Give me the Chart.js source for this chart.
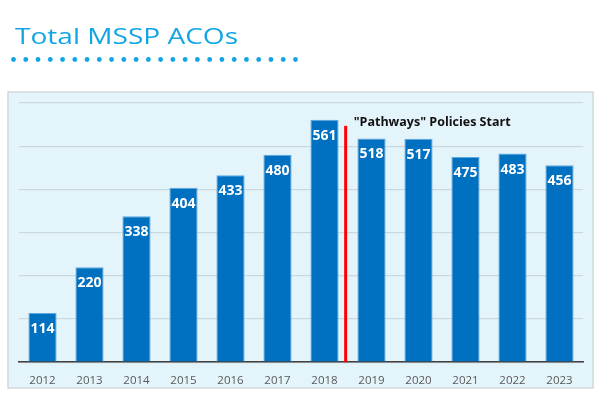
<!DOCTYPE html>
<html>
<head>
<meta charset="utf-8">
<script src="https://cdn.jsdelivr.net/npm/chart.js@4"></script>
<style>
  html, body { margin: 0; padding: 0; background: #fff; }
  #wrap { width: 600px; height: 397px; position: relative; }
</style>
</head>
<body>
<div id="wrap"><canvas id="acos" width="600" height="397"></canvas></div>
<script>
// Total MSSP ACOs per year
const years = ["2012", "2013", "2014", "2015", "2016", "2017", "2018", "2019", "2020", "2021", "2022", "2023"];
const acoCounts = [114, 220, 338, 404, 433, 480, 561, 518, 517, 475, 483, 456];
const yTicks = [0, 100, 200, 300, 400, 500, 600];
const policyNote = "\"Pathways\" Policies Start";

// panel, title and dotted rule behind the chart
const backdrop = {
  id: "backdrop",
  beforeDraw(chart) {
    const ctx = chart.ctx;
    ctx.save();
    ctx.fillStyle = "#E4F4FB";
    ctx.fillRect(8, 92, 585, 296);
    ctx.strokeStyle = "#CFD8DC";
    ctx.lineWidth = 1.5;
    ctx.strokeRect(8, 92, 585, 296);

    ctx.fillStyle = "#12A5E6";
    ctx.font = "22px 'Open Sans'";
    ctx.textBaseline = "alphabetic";
    const w = ctx.measureText("Total MSSP ACOs").width;
    ctx.save();
    ctx.translate(15, 44);
    ctx.scale(223 / w, 1);
    ctx.fillText("Total MSSP ACOs", 0, 0);
    ctx.restore();

    for (let i = 0; i < 24; i++) {
      ctx.beginPath();
      ctx.arc(13.5 + i * 12.26, 59.5, 2.4, 0, Math.PI * 2);
      ctx.fill();
    }
    ctx.restore();
  },
};

// value labels, red policy line and its note
const overlay = {
  id: "overlay",
  afterDatasetsDraw(chart) {
    const ctx = chart.ctx;
    const xs = chart.scales.x, ys = chart.scales.y;
    ctx.save();
    ctx.fillStyle = "#fff";
    ctx.font = "bold 14px 'Open Sans'";
    ctx.textAlign = "center";
    ctx.textBaseline = "middle";
    chart.getDatasetMeta(0).data.forEach((bar, i) => {
      ctx.fillText(acoCounts[i], bar.x, bar.y + 16);
    });

    const lx = xs.getPixelForValue(6.45);
    ctx.strokeStyle = "#FF0000";
    ctx.lineWidth = 3;
    ctx.beginPath();
    ctx.moveTo(lx, ys.getPixelForValue(547));
    ctx.lineTo(lx, ys.getPixelForValue(0));
    ctx.stroke();

    ctx.fillStyle = "#111";
    ctx.font = "bold 12.5px 'Open Sans'";
    ctx.textAlign = "left";
    ctx.fillText(policyNote, lx + 8, ys.getPixelForValue(556));
    ctx.restore();
  },
};

new Chart(document.getElementById("acos"), {
  type: "bar",
  data: {
    labels: years,
    datasets: [
      {
        label: "Total MSSP ACOs",
        data: acoCounts,
        backgroundColor: "#0070C0",
        borderColor: "#5FA8DE",
        borderWidth: 1,
        barPercentage: 0.6,
        categoryPercentage: 1,
      },
    ],
  },
  options: {
    responsive: false,
    animation: false,
    layout: {
      padding: { top: 103, left: 19, right: 17, bottom: 5 },
    },
    plugins: {
      legend: { display: false },
      title: { display: false },
      tooltip: { enabled: false },
    },
    scales: {
      x: {
        grid: { display: false },
        border: { color: "#404040", width: 1.5 },
        ticks: {
          color: "#595959",
          font: { family: "'Open Sans'", size: 11.5 },
          padding: 4,
        },
      },
      y: {
        min: 0,
        max: 600,
        afterBuildTicks(axis) {
          axis.ticks = yTicks.map((v) => ({ value: v }));
        },
        ticks: { display: false },
        border: { display: false },
        grid: { color: "#C9D9DF", lineWidth: 1.2, drawTicks: false },
      },
    },
  },
  plugins: [backdrop, overlay],
});
</script>
</body>
</html>
